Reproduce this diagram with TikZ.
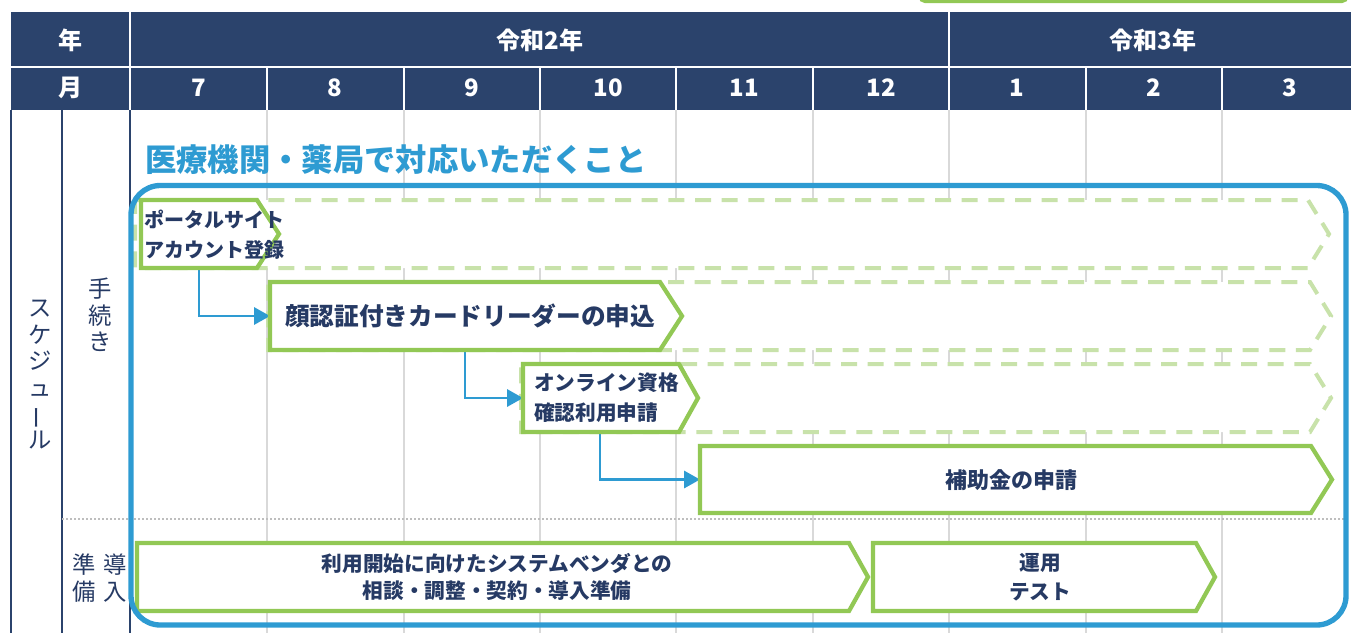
\documentclass[tikz,border=0pt]{standalone}
\usepackage{fontspec}
\newfontfamily\jp{Noto Sans CJK JP}
\usetikzlibrary{arrows.meta,calc,fit}
\definecolor{navy}{RGB}{43,67,108}
\definecolor{ink}{RGB}{38,58,100}
\definecolor{sky}{RGB}{46,155,210}
\definecolor{leaf}{RGB}{146,200,85}
\definecolor{paleleaf}{RGB}{200,226,170}
\definecolor{gridgray}{RGB}{217,217,217}
\definecolor{dotgray}{RGB}{190,190,190}
\newcommand{\chev}[3]{\draw[#1] (#2.north west) -- (#2.north east) -- ($(#2.east)+(#3,0)$) -- (#2.south east) -- (#2.south west) -- cycle;}
\tikzset{
  hdr/.style={text=white, font=\jp\bfseries\fontsize{18}{20}\selectfont, inner sep=0},
  sep/.style={white, line width=1.5pt},
  gridline/.style={gridgray, line width=2.2pt},
  navline/.style={navy, line width=2pt},
  body/.style={inner sep=0, outer sep=0, draw=none},
  gbox/.style={draw=leaf, fill=white, line width=3.2pt, line join=miter},
  dashbox/.style={draw=paleleaf, fill=white, line width=3pt, dash pattern=on 12pt off 8pt},
  conn/.style={sky, line width=1.7pt, -{Triangle[length=12pt,width=13pt]}},
  btext/.style={text=ink, inner sep=0, align=center},
  vlab/.style={text=ink, font=\jp\fontsize{17.5}{19.8}\selectfont, align=center, inner sep=0},
}
\begin{document}
\begin{tikzpicture}[x=0.75pt, y=-0.75pt, font=\jp]
\useasboundingbox (0,0) rectangle (1351,633);
\clip (0,0) rectangle (1351,633);
% top green fragment
\draw[leaf, line width=2.5pt, rounded corners=4pt] (920,-20) -- (920,1.5) -- (1347,1.5) -- (1347,-20);
% header
\fill[navy] (11,12) rectangle (1360,110);
\draw[sep] (11,67) -- (1360,67);
\foreach \x in {130,949} \draw[sep] (\x,12) -- (\x,110);
\foreach \x in {267,404,540,676,813,1086,1222} \draw[sep] (\x,67) -- (\x,110);
\node[hdr] (hy) at (70,40) {年};
\node[hdr] (hm) at (70,88) {月};
\node[hdr] (y2) at (540,40) {令和2年};
\node[hdr] (y3) at (1153,40) {令和3年};
\node[hdr] (m7) at (199,88) {7};
\node[hdr] (m8) at (335,88) {8};
\node[hdr] (m9) at (472,88) {9};
\node[hdr] (m10) at (608,88) {10};
\node[hdr] (m11) at (744,88) {11};
\node[hdr] (m12) at (881,88) {12};
\node[hdr] (m1) at (1017,88) {1};
\node[hdr] (m2) at (1154,88) {2};
\node[hdr] (m3) at (1290,88) {3};
% grid
\foreach \x in {267,404,540,676,813,949,1086,1222} \draw[gridline] (\x,110) -- (\x,633);
\foreach \x in {11,62,130} \draw[navline] (\x,110) -- (\x,633);
\draw[dotgray, line width=1.5pt, dash pattern=on 1.5pt off 1.5pt] (62,519) -- (1346,519);
% title
\node[anchor=west, text=sky, font=\jp\bfseries\fontsize{23.5}{26}\selectfont, inner sep=0] (title) at (145,160) {医療機関・薬局で対応いただくこと};
% dashed chevrons
\node[body, fit={(135,200) (1308,268)}] (d1) {};
\node[body, fit={(268,282) (1310,350)}] (d2) {};
\node[body, fit={(521,364) (1310,432)}] (d3) {};
\chev{dashbox}{d1}{21}
\chev{dashbox}{d2}{21}
\chev{dashbox}{d3}{21}
% boxes (bodies)
\node[body, fit={(141,200) (257,268)}] (b1) {};
\node[body, fit={(270,282) (660,350)}] (b2) {};
\node[body, fit={(523,364) (679,432)}] (b3) {};
\node[body, fit={(700,446) (1311,513)}] (b4) {};
\node[body, fit={(137,543) (849,611)}] (b5) {};
\node[body, fit={(873,543) (1196,611)}] (b6) {};
% connectors
\draw[conn] ($(b1.south west)+(58,0)$) |- (b2.west);
\draw[conn] ($(b2.south west)+(195,0)$) |- (b3.west);
\draw[conn] ($(b3.south west)+(77,0)$) |- (b4.west);
% green chevrons
\chev{gbox}{b1}{22}
\chev{gbox}{b2}{22}
\chev{gbox}{b3}{19}
\chev{gbox}{b4}{21}
\chev{gbox}{b5}{19}
\chev{gbox}{b6}{19}
% texts
\node[btext, anchor=west, align=left, font=\jp\bfseries\fontsize{15}{22.5}\selectfont] (t1) at (144,235) {ポータルサイト\\アカウント登録};
\node[btext, font=\jp\bfseries\fontsize{18.5}{22}\selectfont] (t2) at (470,316) {顔認証付きカードリーダーの申込};
\node[btext, anchor=west, align=left, font=\jp\bfseries\fontsize{15.5}{22.5}\selectfont] (t3) at (534,398) {オンライン資格\\確認利用申請};
\node[btext, font=\jp\bfseries\fontsize{16.5}{20}\selectfont] (t4) at (1011,480) {補助金の申請};
\node[btext, font=\jp\bfseries\fontsize{15.5}{20.5}\selectfont] (t5) at (497,577) {利用開始に向けたシステムベンダとの\\相談・調整・契約・導入準備};
\node[btext, font=\jp\bfseries\fontsize{15.5}{22}\selectfont] (t6) at (1040,577) {運用\\テスト};
% blue frame
\draw[sky, line width=4pt, rounded corners=22pt] (131,185.5) rectangle (1346,625);
% vertical labels
\node[vlab] (sched) at (40,375) {ス\\ケ\\ジ\\ュ\\\rotatebox[origin=c]{90}{ー}\\ル};
\node[vlab] (proc) at (100,315) {手\\続\\き};
\node[vlab] (intro) at (115,578) {導\\入};
\node[vlab] (prep) at (84,578) {準\\備};
\end{tikzpicture}
\end{document}
